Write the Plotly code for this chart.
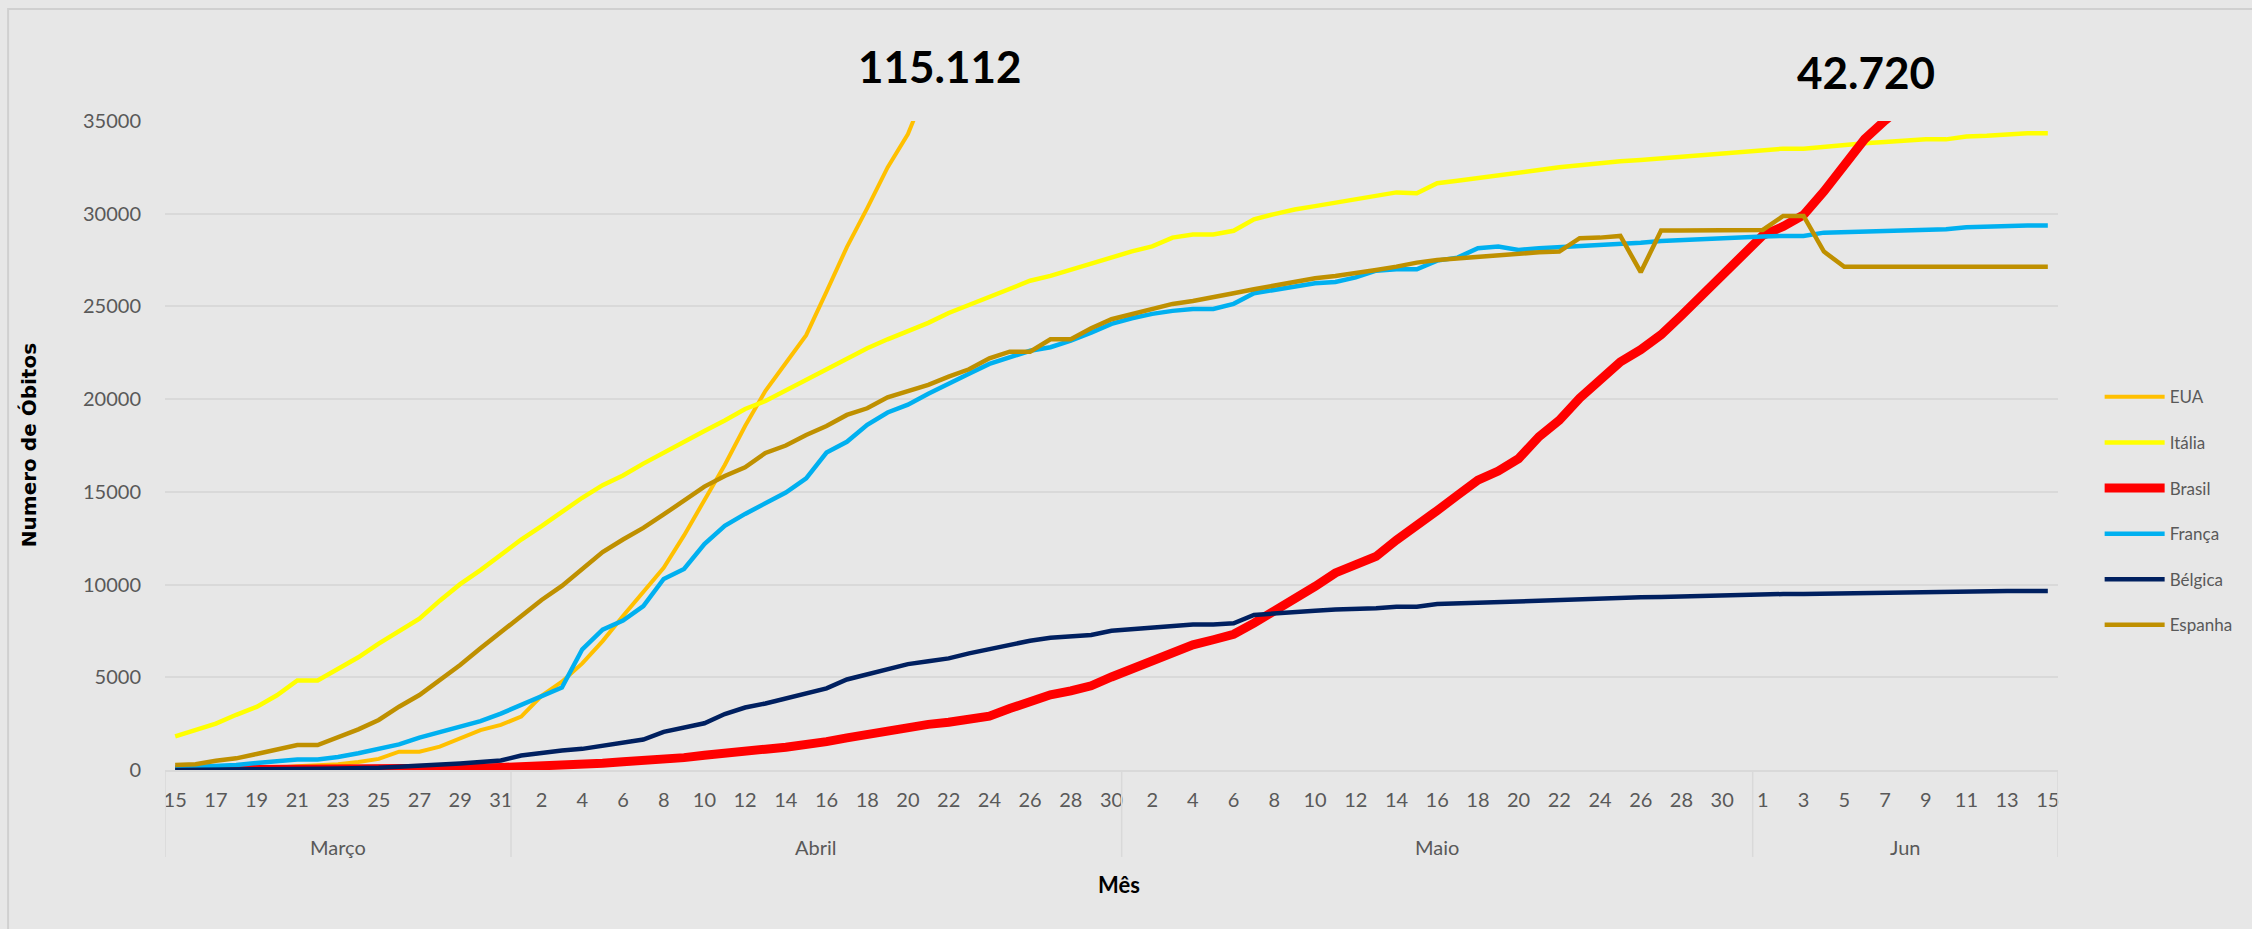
import plotly.graph_objects as go

# ---- categories (days, Mar 15 - Jun 15) ----
dias = list(range(15, 32)) + list(range(1, 31)) + list(range(1, 32)) + list(range(1, 16))
meses = ["Março"] * 17 + ["Abril"] * 30 + ["Maio"] * 31 + ["Jun"] * 15
ordem_meses = ["Março", "Abril", "Maio", "Jun"]

# ---- series (cumulative deaths) ----
eua = [50, 60, 63, 85, 108, 118, 200, 250, 310, 430,
       600, 990, 990, 1260, 1700, 2150, 2430, 2880, 4000, 4760,
       5750, 6950, 8300, 9600, 10900, 12650, 14550, 16450, 18550, 20450,
       21950, 23450, 25800, 28200, 30300, 32500, 34300,
       37000, 38700, 40700, 42100, 44800, 46600, 50200, 52200, 54300, 55400,
       56800, 58400, 61000, 63000, 64900, 66400, 67700, 68900, 71100, 73500,
       75700, 77200, 78800, 79500, 80700, 82400, 84100, 85900, 87500, 88800,
       89600, 90300, 91900, 93400, 94700, 96000, 97100, 97700, 98200, 98900,
       100400, 101600, 102800, 103800, 104400, 105100, 106200, 107200, 108200, 109100,
       110500, 111000, 112000, 113000, 114100, 115112]

italia = [1809, 2158, 2503, 2978, 3405, 4032, 4825, 4825, 5476, 6077,
          6820, 7503, 8165, 9134, 10023, 10779, 11591, 12428, 13155, 13915,
          14681, 15362, 15887, 16523, 17127, 17669, 18279, 18849, 19468, 19899,
          20465, 21067, 21645, 22170, 22745, 23227, 23660, 24114, 24648, 25085,
          25549, 25969, 26384, 26644, 26977, 27359, 27682, 27967, 28236, 28710,
          28884, 28884, 29079, 29700, 29980, 30230, 30410, 30590, 30770, 30990,
          31150, 31100, 31640, 31780, 31940, 32040, 32210, 32360, 32500, 32630,
          32750, 32830, 32900, 32990, 33080, 33170, 33260, 33370, 33440, 33510,
          33510, 33620, 33710, 33800, 33870, 33940, 34010, 34010, 34160, 34200,
          34270, 34340, 34340]

brasil = [0, 0, 0, 0, 1, 3, 6, 11, 15, 25,
          34, 46, 59, 77, 92, 111, 136, 159, 201, 240,
          324, 359, 445, 486, 553, 667, 800, 941, 1056, 1124,
          1223, 1328, 1532, 1736, 1924, 2141, 2347, 2462, 2575, 2741,
          2906, 3313, 3704, 4057, 4271, 4543, 5017, 5466, 5901, 6329,
          6750, 7025, 7321, 7921, 8536, 9146, 9897, 10627, 11123, 11519,
          12400, 13149, 13993, 14817, 15633, 16118, 16792, 17971, 18859, 20047,
          21048, 22013, 22666, 23473, 24512, 25598, 26754, 27878, 28834, 29314,
          29937, 31199, 32548, 34021, 35026, 35930, 36455, 37134, 38406, 39680,
          40919, 41828, 42720]

franca = [120, 160, 200, 270, 380, 460, 570, 570, 700, 900,
          1130, 1380, 1750, 2040, 2350, 2640, 3040, 3510, 4000, 4450,
          6510, 7570, 8060, 8840, 10300, 10840, 12190, 13170, 13810, 14390,
          14960, 15730, 17120, 17700, 18620, 19280, 19700, 20290, 20850, 21370,
          21900, 22260, 22610, 22800, 23150, 23590, 24060, 24360, 24600, 24760,
          24860, 24860, 25140, 25710, 25890, 26110, 26250, 26320, 26570, 26930,
          27000, 27000, 27470, 27630, 28140, 28230, 28050, 28140, 28190, 28260,
          28320, 28340, 28440, 28530, 28590, 28640, 28700, 28750, 28770, 28800,
          28800, 28980, 29020, 29050, 29090, 29130, 29160, 29160, 29270, 29310,
          29340, 29360, 29360]

belgica = [4, 5, 10, 14, 21, 37, 67, 67, 75, 88,
           122, 178, 220, 289, 353, 431, 513, 780, 935, 1050,
           1140, 1300, 1460, 1640, 2060, 2260, 2520, 3020, 3370, 3590,
           3860, 4130, 4400, 4880, 5170, 5480, 5710, 5870, 6020, 6290,
           6520, 6740, 6970, 7130, 7200, 7280, 7510, 7600, 7690, 7770,
           7850, 7850, 7910, 8360, 8450, 8540, 8590, 8650, 8680, 8720,
           8810, 8810, 8950, 8990, 9040, 9060, 9080, 9130, 9170, 9190,
           9240, 9280, 9310, 9330, 9360, 9390, 9430, 9450, 9470, 9490,
           9490, 9510, 9520, 9550, 9580, 9600, 9610, 9620, 9630, 9640,
           9650, 9650, 9655]

espanha = [270, 307, 503, 629, 863, 1079, 1349, 1349, 1744, 2194,
           2697, 3415, 4045, 4818, 5663, 6563, 7407, 8270, 9170, 9930,
           10879, 11750, 12430, 13060, 13780, 14520, 15282, 15858, 16325, 17100,
           17500, 18069, 18554, 19148, 19508, 20103, 20405, 20766, 21213, 21610,
           22206, 22562, 22562, 23231, 23231, 23824, 24310, 24596, 24848, 25135,
           25297, 25476, 25710, 25926, 26125, 26305, 26520, 26645, 26790, 26970,
           27148, 27363, 27508, 27598, 27686, 27740, 27815, 27922, 27957, 28678,
           28711, 28803, 26845, 29089, 29089, 29100, 29110, 29115, 29126, 29881,
           29881, 27957, 27136, 27136, 27136, 27136, 27136, 27136, 27136, 27136,
           27136, 27136, 27136]

series = [
    ("EUA", eua, "#FFC000", 4),
    ("Itália", italia, "#FFFF00", 4.5),
    ("Brasil", brasil, "#FF0000", 9),
    ("França", franca, "#00B0F0", 4.5),
    ("Bélgica", belgica, "#002060", 4.5),
    ("Espanha", espanha, "#BF9000", 4.5),
]

rotulo_eua = "115.112"
rotulo_brasil = "42.720"

BG = "#E7E7E7"
GRID = "#D9D9D9"
TXT = "#595959"
FONT = "Lato"
FS = 20

x_idx = list(range(len(dias)))

fig = go.Figure()
for nome, vals, cor, w in series:
    fig.add_trace(go.Scatter(
        x=x_idx, y=vals, mode="lines", name=nome, legendgroup=nome,
        line=dict(color=cor, width=w),
    ))

tickvals = x_idx[::2]
ticktext = [str(dias[i]) for i in tickvals]

annotations = []
shapes = []
bounds = [-0.5]
for m in ordem_meses:
    idx = [i for i, mm in enumerate(meses) if mm == m]
    centro = (idx[0] + idx[-1]) / 2
    annotations.append(dict(x=centro, y=-0.1186, xref="x", yref="paper", text=m,
                            showarrow=False, font=dict(family=FONT, size=FS, color=TXT),
                            yanchor="middle"))
    bounds.append(idx[-1] + 0.5)
for b in bounds:
    shapes.append(dict(type="line", xref="x", yref="paper", x0=b, x1=b, y0=0, y1=-0.134,
                       line=dict(color=GRID, width=1.5)))

# outer chart border
shapes.append(dict(type="rect", xref="paper", yref="paper", x0=-0.0829, x1=1.11,
                   y0=-0.27, y1=1.1725, line=dict(color="#D0D0D0", width=2),
                   fillcolor="rgba(0,0,0,0)", layer="below"))

annotations += [
    dict(x=-0.0718, y=0.5007, xref="paper", yref="paper", text="<b>Numero de Óbitos</b>",
         textangle=-90, showarrow=False, font=dict(family="DejaVu Sans", size=20, color="#000000"),
         xanchor="center", yanchor="middle"),
    dict(x=0.504, y=-0.177, xref="paper", yref="paper", text="<b>Mês</b>",
         showarrow=False, font=dict(family=FONT, size=22, color="#000000"),
         xanchor="center", yanchor="middle"),
    dict(x=0.4094, y=1.0846, xref="paper", yref="paper", text="<b>" + rotulo_eua + "</b>",
         showarrow=False, font=dict(family=FONT, size=44, color="#000000"),
         xanchor="center", yanchor="middle"),
    dict(x=0.8986, y=1.0753, xref="paper", yref="paper", text="<b>" + rotulo_brasil + "</b>",
         showarrow=False, font=dict(family=FONT, size=44, color="#000000"),
         xanchor="center", yanchor="middle"),
]

fig.update_layout(
    width=2252, height=929,
    margin=dict(l=165, r=194, t=121, b=159, autoexpand=False),
    paper_bgcolor=BG, plot_bgcolor=BG,
    font=dict(family=FONT, size=FS, color=TXT),
    showlegend=True,
    legend=dict(x=1.022, y=0.602, xanchor="left", yanchor="top",
                bgcolor="rgba(0,0,0,0)", font=dict(family=FONT, size=17, color=TXT),
                tracegroupgap=20.5, itemwidth=60, traceorder="grouped"),
    annotations=annotations,
    shapes=shapes,
)
fig.update_xaxes(range=[-0.5, len(dias) - 0.5], tickmode="array", tickvals=tickvals,
                 ticktext=ticktext, showgrid=False, zeroline=False, showline=True,
                 linecolor=GRID, linewidth=1.5, ticks="outside", ticklen=11,
                 tickcolor="rgba(0,0,0,0)", tickfont=dict(family=FONT, size=FS, color=TXT))
fig.update_yaxes(range=[0, 35000], dtick=5000, tickformat="d", showgrid=True,
                 gridcolor=GRID, gridwidth=1.5, zeroline=False, showline=False,
                 ticks="outside", ticklen=19, tickcolor="rgba(0,0,0,0)",
                 tickfont=dict(family=FONT, size=FS, color=TXT))

fig.write_html("out.html", config={"displayModeBar": False},
               post_script="document.body.style.margin='0';")
